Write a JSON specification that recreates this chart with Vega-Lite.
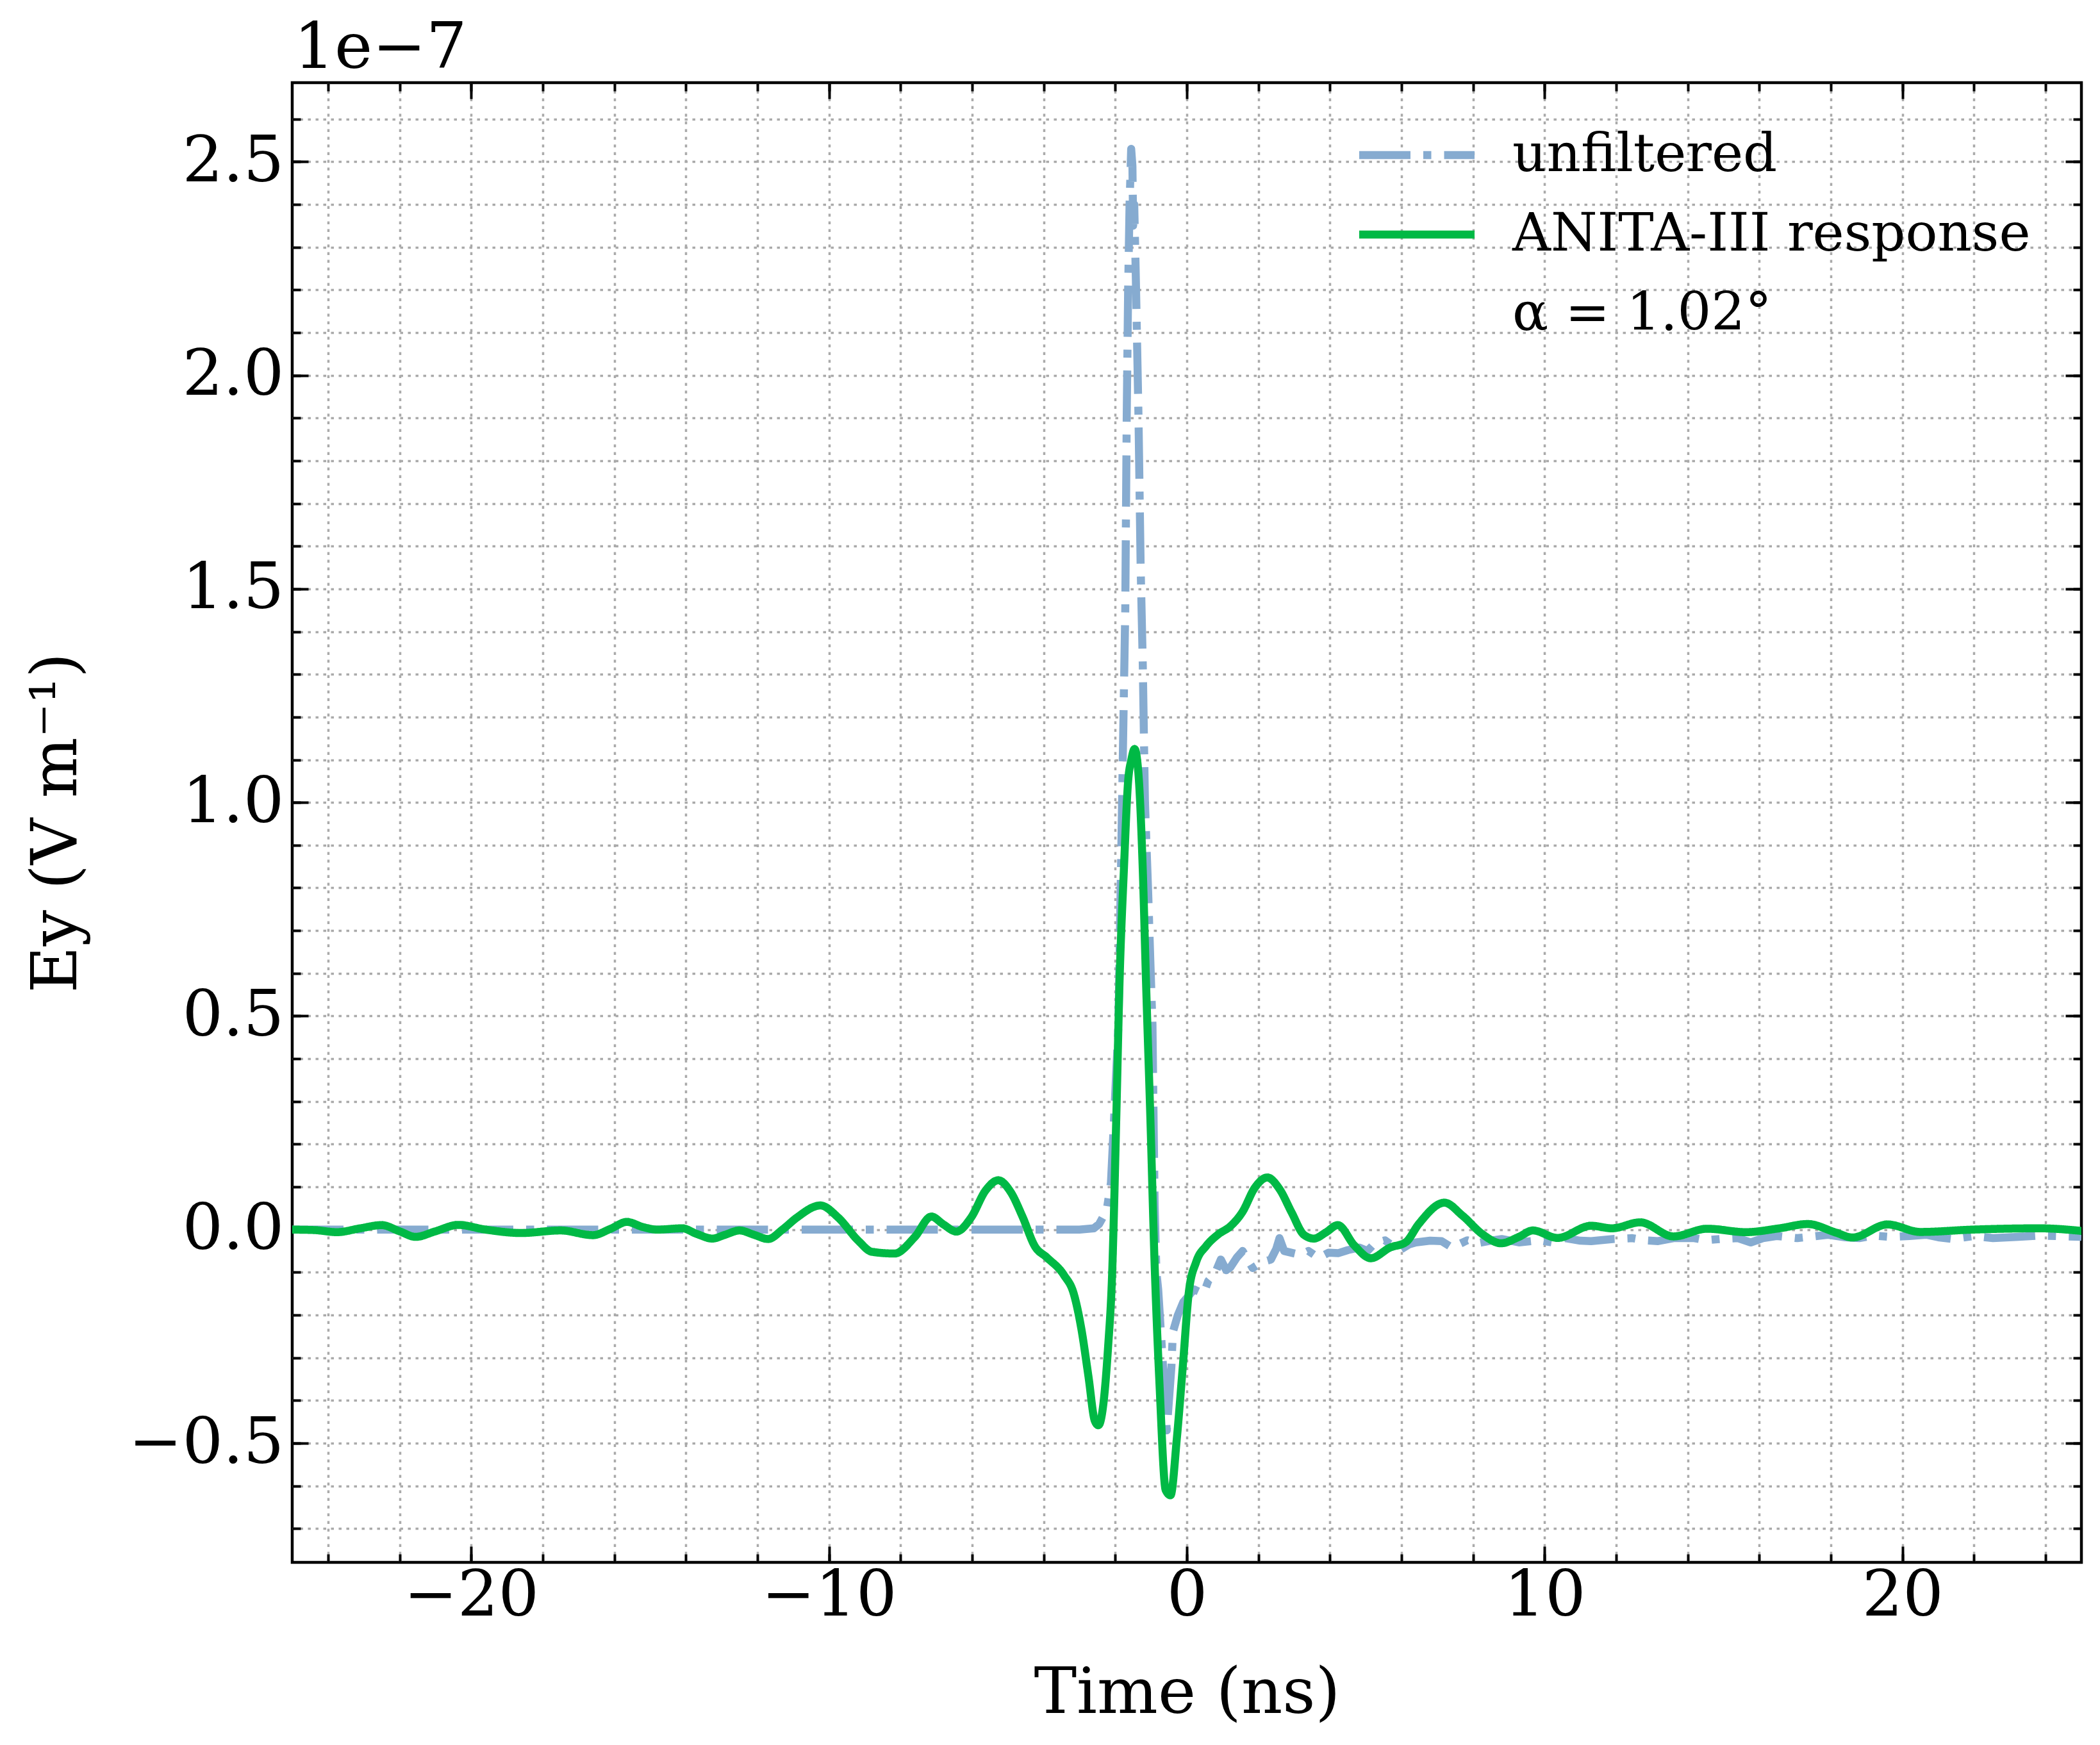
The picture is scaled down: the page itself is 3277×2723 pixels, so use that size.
{
  "$schema": "https://vega.github.io/schema/vega-lite/v6.json",
  "width": 2792,
  "height": 2309,
  "autosize": {"type": "none"},
  "padding": {"left": 456, "top": 129, "right": 29, "bottom": 285},
  "background": "#ffffff",
  "datasets": {
    "unfiltered": [
      {"t": -25, "v": 0, "series": "unfiltered"},
      {"t": -15, "v": 0, "series": "unfiltered"},
      {"t": -5, "v": 0, "series": "unfiltered"},
      {"t": -3.0, "v": 0.0, "series": "unfiltered"},
      {"t": -2.6, "v": 0.003, "series": "unfiltered"},
      {"t": -2.45, "v": 0.013, "series": "unfiltered"},
      {"t": -2.24, "v": 0.045, "series": "unfiltered"},
      {"t": -2.12, "v": 0.11, "series": "unfiltered"},
      {"t": -2.03, "v": 0.265, "series": "unfiltered"},
      {"t": -1.91, "v": 0.48, "series": "unfiltered"},
      {"t": -1.85, "v": 0.79, "series": "unfiltered"},
      {"t": -1.79, "v": 1.1, "series": "unfiltered"},
      {"t": -1.72, "v": 1.45, "series": "unfiltered"},
      {"t": -1.68, "v": 1.9, "series": "unfiltered"},
      {"t": -1.64, "v": 2.2, "series": "unfiltered"},
      {"t": -1.6, "v": 2.4, "series": "unfiltered"},
      {"t": -1.555, "v": 2.53, "series": "unfiltered"},
      {"t": -1.52, "v": 2.49, "series": "unfiltered"},
      {"t": -1.5, "v": 2.35, "series": "unfiltered"},
      {"t": -1.47, "v": 2.4, "series": "unfiltered"},
      {"t": -1.43, "v": 2.25, "series": "unfiltered"},
      {"t": -1.4, "v": 2.12, "series": "unfiltered"},
      {"t": -1.35, "v": 1.9, "series": "unfiltered"},
      {"t": -1.29, "v": 1.55, "series": "unfiltered"},
      {"t": -1.23, "v": 1.32, "series": "unfiltered"},
      {"t": -1.17, "v": 1.0, "series": "unfiltered"},
      {"t": -1.08, "v": 0.79, "series": "unfiltered"},
      {"t": -1.02, "v": 0.63, "series": "unfiltered"},
      {"t": -0.96, "v": 0.48, "series": "unfiltered"},
      {"t": -0.93, "v": 0.27, "series": "unfiltered"},
      {"t": -0.9, "v": 0.06, "series": "unfiltered"},
      {"t": -0.85, "v": -0.1, "series": "unfiltered"},
      {"t": -0.8, "v": -0.14, "series": "unfiltered"},
      {"t": -0.68, "v": -0.3, "series": "unfiltered"},
      {"t": -0.56, "v": -0.47, "series": "unfiltered"},
      {"t": -0.5, "v": -0.4, "series": "unfiltered"},
      {"t": -0.43, "v": -0.32, "series": "unfiltered"},
      {"t": -0.39, "v": -0.24, "series": "unfiltered"},
      {"t": -0.25, "v": -0.2, "series": "unfiltered"},
      {"t": -0.1, "v": -0.17, "series": "unfiltered"},
      {"t": 0.0, "v": -0.16, "series": "unfiltered"},
      {"t": 0.2, "v": -0.14, "series": "unfiltered"},
      {"t": 0.47, "v": -0.15, "series": "unfiltered"},
      {"t": 0.6, "v": -0.12, "series": "unfiltered"},
      {"t": 0.8, "v": -0.1, "series": "unfiltered"},
      {"t": 0.95, "v": -0.07, "series": "unfiltered"},
      {"t": 1.1, "v": -0.095, "series": "unfiltered"},
      {"t": 1.22, "v": -0.088, "series": "unfiltered"},
      {"t": 1.4, "v": -0.065, "series": "unfiltered"},
      {"t": 1.56, "v": -0.05, "series": "unfiltered"},
      {"t": 1.7, "v": -0.07, "series": "unfiltered"},
      {"t": 1.84, "v": -0.09, "series": "unfiltered"},
      {"t": 2.1, "v": -0.076, "series": "unfiltered"},
      {"t": 2.35, "v": -0.07, "series": "unfiltered"},
      {"t": 2.5, "v": -0.045, "series": "unfiltered"},
      {"t": 2.59, "v": -0.02, "series": "unfiltered"},
      {"t": 2.72, "v": -0.05, "series": "unfiltered"},
      {"t": 3.07, "v": -0.057, "series": "unfiltered"},
      {"t": 3.24, "v": -0.057, "series": "unfiltered"},
      {"t": 3.4, "v": -0.05, "series": "unfiltered"},
      {"t": 3.68, "v": -0.066, "series": "unfiltered"},
      {"t": 3.96, "v": -0.054, "series": "unfiltered"},
      {"t": 4.24, "v": -0.055, "series": "unfiltered"},
      {"t": 4.5, "v": -0.048, "series": "unfiltered"},
      {"t": 4.82, "v": -0.042, "series": "unfiltered"},
      {"t": 5.05, "v": -0.05, "series": "unfiltered"},
      {"t": 5.25, "v": -0.032, "series": "unfiltered"},
      {"t": 5.54, "v": -0.025, "series": "unfiltered"},
      {"t": 5.75, "v": -0.038, "series": "unfiltered"},
      {"t": 5.97, "v": -0.047, "series": "unfiltered"},
      {"t": 6.2, "v": -0.035, "series": "unfiltered"},
      {"t": 6.4, "v": -0.03, "series": "unfiltered"},
      {"t": 6.8, "v": -0.026, "series": "unfiltered"},
      {"t": 7.12, "v": -0.027, "series": "unfiltered"},
      {"t": 7.41, "v": -0.042, "series": "unfiltered"},
      {"t": 7.84, "v": -0.025, "series": "unfiltered"},
      {"t": 8.1, "v": -0.032, "series": "unfiltered"},
      {"t": 8.42, "v": -0.027, "series": "unfiltered"},
      {"t": 8.8, "v": -0.022, "series": "unfiltered"},
      {"t": 9.28, "v": -0.03, "series": "unfiltered"},
      {"t": 9.86, "v": -0.025, "series": "unfiltered"},
      {"t": 10.2, "v": -0.03, "series": "unfiltered"},
      {"t": 10.58, "v": -0.02, "series": "unfiltered"},
      {"t": 11.0, "v": -0.026, "series": "unfiltered"},
      {"t": 11.3, "v": -0.027, "series": "unfiltered"},
      {"t": 11.9, "v": -0.022, "series": "unfiltered"},
      {"t": 12.45, "v": -0.02, "series": "unfiltered"},
      {"t": 12.8, "v": -0.025, "series": "unfiltered"},
      {"t": 13.17, "v": -0.027, "series": "unfiltered"},
      {"t": 13.6, "v": -0.02, "series": "unfiltered"},
      {"t": 14.18, "v": -0.02, "series": "unfiltered"},
      {"t": 14.5, "v": -0.025, "series": "unfiltered"},
      {"t": 14.9, "v": -0.022, "series": "unfiltered"},
      {"t": 15.4, "v": -0.02, "series": "unfiltered"},
      {"t": 15.76, "v": -0.03, "series": "unfiltered"},
      {"t": 16.1, "v": -0.02, "series": "unfiltered"},
      {"t": 16.48, "v": -0.015, "series": "unfiltered"},
      {"t": 17.06, "v": -0.02, "series": "unfiltered"},
      {"t": 17.5, "v": -0.016, "series": "unfiltered"},
      {"t": 17.92, "v": -0.012, "series": "unfiltered"},
      {"t": 18.4, "v": -0.018, "series": "unfiltered"},
      {"t": 18.79, "v": -0.02, "series": "unfiltered"},
      {"t": 19.2, "v": -0.014, "series": "unfiltered"},
      {"t": 19.65, "v": -0.017, "series": "unfiltered"},
      {"t": 20.2, "v": -0.015, "series": "unfiltered"},
      {"t": 20.66, "v": -0.012, "series": "unfiltered"},
      {"t": 21.0, "v": -0.018, "series": "unfiltered"},
      {"t": 21.38, "v": -0.022, "series": "unfiltered"},
      {"t": 22.0, "v": -0.015, "series": "unfiltered"},
      {"t": 22.53, "v": -0.02, "series": "unfiltered"},
      {"t": 23.25, "v": -0.017, "series": "unfiltered"},
      {"t": 23.8, "v": -0.014, "series": "unfiltered"},
      {"t": 24.26, "v": -0.015, "series": "unfiltered"},
      {"t": 25.0, "v": -0.017, "series": "unfiltered"}
    ],
    "anita": [
      {"t": -25.0, "v": 0.0, "series": "ANITA-III response"},
      {"t": -24.4, "v": -0.001, "series": "ANITA-III response"},
      {"t": -23.75, "v": -0.006, "series": "ANITA-III response"},
      {"t": -23.1, "v": 0.003, "series": "ANITA-III response"},
      {"t": -22.5, "v": 0.0105, "series": "ANITA-III response"},
      {"t": -22.0, "v": -0.004, "series": "ANITA-III response"},
      {"t": -21.55, "v": -0.017, "series": "ANITA-III response"},
      {"t": -21.0, "v": -0.004, "series": "ANITA-III response"},
      {"t": -20.36, "v": 0.011, "series": "ANITA-III response"},
      {"t": -19.6, "v": 0.0, "series": "ANITA-III response"},
      {"t": -18.6, "v": -0.008, "series": "ANITA-III response"},
      {"t": -17.5, "v": -0.002, "series": "ANITA-III response"},
      {"t": -16.6, "v": -0.013, "series": "ANITA-III response"},
      {"t": -16.1, "v": 0.002, "series": "ANITA-III response"},
      {"t": -15.65, "v": 0.018, "series": "ANITA-III response"},
      {"t": -15.2, "v": 0.006, "series": "ANITA-III response"},
      {"t": -14.8, "v": 0.0, "series": "ANITA-III response"},
      {"t": -14.1, "v": 0.003, "series": "ANITA-III response"},
      {"t": -13.7, "v": -0.01, "series": "ANITA-III response"},
      {"t": -13.26, "v": -0.021, "series": "ANITA-III response"},
      {"t": -12.9, "v": -0.012, "series": "ANITA-III response"},
      {"t": -12.5, "v": -0.002, "series": "ANITA-III response"},
      {"t": -12.1, "v": -0.012, "series": "ANITA-III response"},
      {"t": -11.7, "v": -0.022, "series": "ANITA-III response"},
      {"t": -11.3, "v": 0.0, "series": "ANITA-III response"},
      {"t": -10.9, "v": 0.028, "series": "ANITA-III response"},
      {"t": -10.24, "v": 0.0565, "series": "ANITA-III response"},
      {"t": -9.74, "v": 0.028, "series": "ANITA-III response"},
      {"t": -9.17, "v": -0.027, "series": "ANITA-III response"},
      {"t": -8.8, "v": -0.052, "series": "ANITA-III response"},
      {"t": -8.17, "v": -0.056, "series": "ANITA-III response"},
      {"t": -7.6, "v": -0.017, "series": "ANITA-III response"},
      {"t": -7.14, "v": 0.0305, "series": "ANITA-III response"},
      {"t": -6.8, "v": 0.012, "series": "ANITA-III response"},
      {"t": -6.44, "v": -0.0045, "series": "ANITA-III response"},
      {"t": -6.03, "v": 0.028, "series": "ANITA-III response"},
      {"t": -5.62, "v": 0.092, "series": "ANITA-III response"},
      {"t": -5.27, "v": 0.1155, "series": "ANITA-III response"},
      {"t": -4.93, "v": 0.089, "series": "ANITA-III response"},
      {"t": -4.59, "v": 0.03, "series": "ANITA-III response"},
      {"t": -4.25, "v": -0.0385, "series": "ANITA-III response"},
      {"t": -3.9, "v": -0.066, "series": "ANITA-III response"},
      {"t": -3.43, "v": -0.107, "series": "ANITA-III response"},
      {"t": -3.16, "v": -0.15, "series": "ANITA-III response"},
      {"t": -2.95, "v": -0.231, "series": "ANITA-III response"},
      {"t": -2.75, "v": -0.343, "series": "ANITA-III response"},
      {"t": -2.57, "v": -0.448, "series": "ANITA-III response"},
      {"t": -2.47, "v": -0.458, "series": "ANITA-III response"},
      {"t": -2.35, "v": -0.42, "series": "ANITA-III response"},
      {"t": -2.2, "v": -0.275, "series": "ANITA-III response"},
      {"t": -2.09, "v": -0.11, "series": "ANITA-III response"},
      {"t": -1.97, "v": 0.265, "series": "ANITA-III response"},
      {"t": -1.88, "v": 0.58, "series": "ANITA-III response"},
      {"t": -1.76, "v": 0.84, "series": "ANITA-III response"},
      {"t": -1.64, "v": 1.05, "series": "ANITA-III response"},
      {"t": -1.55, "v": 1.1, "series": "ANITA-III response"},
      {"t": -1.46, "v": 1.125, "series": "ANITA-III response"},
      {"t": -1.35, "v": 1.065, "series": "ANITA-III response"},
      {"t": -1.23, "v": 0.84, "series": "ANITA-III response"},
      {"t": -1.14, "v": 0.58, "series": "ANITA-III response"},
      {"t": -1.02, "v": 0.265, "series": "ANITA-III response"},
      {"t": -0.9, "v": -0.08, "series": "ANITA-III response"},
      {"t": -0.76, "v": -0.368, "series": "ANITA-III response"},
      {"t": -0.59, "v": -0.61, "series": "ANITA-III response"},
      {"t": -0.455, "v": -0.622, "series": "ANITA-III response"},
      {"t": -0.28, "v": -0.49, "series": "ANITA-III response"},
      {"t": -0.11, "v": -0.318, "series": "ANITA-III response"},
      {"t": 0.06, "v": -0.144, "series": "ANITA-III response"},
      {"t": 0.26, "v": -0.076, "series": "ANITA-III response"},
      {"t": 0.54, "v": -0.0385, "series": "ANITA-III response"},
      {"t": 0.88, "v": -0.011, "series": "ANITA-III response"},
      {"t": 1.22, "v": 0.008, "series": "ANITA-III response"},
      {"t": 1.56, "v": 0.042, "series": "ANITA-III response"},
      {"t": 1.9, "v": 0.098, "series": "ANITA-III response"},
      {"t": 2.25, "v": 0.122, "series": "ANITA-III response"},
      {"t": 2.59, "v": 0.095, "series": "ANITA-III response"},
      {"t": 2.93, "v": 0.04, "series": "ANITA-III response"},
      {"t": 3.27, "v": -0.012, "series": "ANITA-III response"},
      {"t": 3.55, "v": -0.021, "series": "ANITA-III response"},
      {"t": 3.88, "v": -0.007, "series": "ANITA-III response"},
      {"t": 4.22, "v": 0.0105, "series": "ANITA-III response"},
      {"t": 4.68, "v": -0.037, "series": "ANITA-III response"},
      {"t": 5.14, "v": -0.067, "series": "ANITA-III response"},
      {"t": 5.68, "v": -0.042, "series": "ANITA-III response"},
      {"t": 6.12, "v": -0.0295, "series": "ANITA-III response"},
      {"t": 6.48, "v": 0.013, "series": "ANITA-III response"},
      {"t": 7.2, "v": 0.063, "series": "ANITA-III response"},
      {"t": 7.7, "v": 0.033, "series": "ANITA-III response"},
      {"t": 8.28, "v": -0.012, "series": "ANITA-III response"},
      {"t": 8.78, "v": -0.032, "series": "ANITA-III response"},
      {"t": 9.28, "v": -0.017, "series": "ANITA-III response"},
      {"t": 9.67, "v": -0.002, "series": "ANITA-III response"},
      {"t": 10.36, "v": -0.0195, "series": "ANITA-III response"},
      {"t": 11.3, "v": 0.009, "series": "ANITA-III response"},
      {"t": 11.88, "v": 0.003, "series": "ANITA-III response"},
      {"t": 12.67, "v": 0.017, "series": "ANITA-III response"},
      {"t": 13.6, "v": -0.016, "series": "ANITA-III response"},
      {"t": 14.54, "v": 0.002, "series": "ANITA-III response"},
      {"t": 15.62, "v": -0.006, "series": "ANITA-III response"},
      {"t": 16.56, "v": 0.003, "series": "ANITA-III response"},
      {"t": 17.35, "v": 0.013, "series": "ANITA-III response"},
      {"t": 18.14, "v": -0.007, "series": "ANITA-III response"},
      {"t": 18.6, "v": -0.0185, "series": "ANITA-III response"},
      {"t": 19.58, "v": 0.012, "series": "ANITA-III response"},
      {"t": 20.5, "v": -0.0055, "series": "ANITA-III response"},
      {"t": 21.96, "v": 0.0, "series": "ANITA-III response"},
      {"t": 23.83, "v": 0.003, "series": "ANITA-III response"},
      {"t": 25.0, "v": -0.003, "series": "ANITA-III response"}
    ]
  },
  "resolve": {"axis": {"x": "independent", "y": "independent"}},
  "layer": [
    {
      "data": {"name": "unfiltered"},
      "mark": {"type": "line", "strokeWidth": 12.5, "strokeCap": "butt", "strokeJoin": "round", "interpolate": "linear", "clip": true},
      "encoding": {
        "x": {"field": "t", "type": "quantitative",
          "scale": {"domain": [-25, 25], "nice": false, "zero": false},
          "axis": {"orient": "bottom", "values": [-20, -10, 0, 10, 20], "format": "d", "tickSize": -25, "labelPadding": 107, "labelBaseline": "alphabetic", "labelFlush": false, "labelOverlap": false, "labelLimit": 0, "grid": false, "title": "Time (ns)", "titleBaseline": "alphabetic", "titleY": 234}},
        "y": {"field": "v", "type": "quantitative",
          "scale": {"domain": [-0.779, 2.685], "nice": false, "zero": false},
          "axis": {"orient": "left", "values": [-0.5, 0, 0.5, 1, 1.5, 2, 2.5], "format": ".1f", "tickSize": -25, "labelPadding": 38, "labelFlush": false, "labelOverlap": false, "labelLimit": 0, "grid": false, "title": "Ey (V m⁻¹)", "titleX": -338, "titleY": 1154.5, "titleAngle": -90, "titleBaseline": "alphabetic", "titleAlign": "center"}},
        "color": {"field": "series", "type": "nominal",
          "scale": {"domain": ["unfiltered", "ANITA-III response", "α = 1.02°"], "range": ["#86abd0", "#00b945", "rgba(0,0,0,0)"]},
          "legend": {"orient": "none", "legendX": 1658.5, "legendY": 58, "title": null, "symbolType": "stroke", "symbolSize": 32400, "symbolStrokeWidth": 12.5, "labelFont": "DejaVu Serif", "labelFontSize": 83, "labelColor": "#000000", "labelOffset": 52.5, "clipHeight": 110, "rowPadding": 14, "padding": 0, "labelLimit": 0, "symbolOffset": 0}},
        "strokeDash": {"field": "series", "type": "nominal",
          "scale": {"domain": ["unfiltered", "ANITA-III response", "α = 1.02°"], "range": [[80, 20, 12.5, 20], [1, 0], [1, 0]]},
          "legend": {"orient": "none", "legendX": 1658.5, "legendY": 58, "title": null, "symbolType": "stroke", "symbolSize": 32400, "symbolStrokeWidth": 12.5, "labelFont": "DejaVu Serif", "labelFontSize": 83, "labelColor": "#000000", "labelOffset": 52.5, "clipHeight": 110, "rowPadding": 14, "padding": 0, "labelLimit": 0, "symbolOffset": 0}}
      }
    },
    {
      "data": {"name": "anita"},
      "mark": {"type": "line", "strokeWidth": 12.5, "strokeCap": "round", "strokeJoin": "round", "interpolate": "monotone", "clip": true},
      "encoding": {
        "x": {"field": "t", "type": "quantitative",
          "axis": {"orient": "bottom", "values": [-24, -22, -20, -18, -16, -14, -12, -10, -8, -6, -4, -2, 0, 2, 4, 6, 8, 10, 12, 14, 16, 18, 20, 22, 24], "tickSize": -13, "labels": false, "grid": true, "title": null}},
        "y": {"field": "v", "type": "quantitative",
          "axis": {"orient": "left", "values": [-0.7, -0.6, -0.5, -0.4, -0.3, -0.2, -0.1, 0, 0.1, 0.2, 0.3, 0.4, 0.5, 0.6, 0.7, 0.8, 0.9, 1.0, 1.1, 1.2, 1.3, 1.4, 1.5, 1.6, 1.7, 1.8, 1.9, 2.0, 2.1, 2.2, 2.3, 2.4, 2.5, 2.6], "tickSize": -13, "labels": false, "grid": true, "title": null}},
        "color": {"field": "series", "type": "nominal",
          "scale": {"domain": ["unfiltered", "ANITA-III response", "α = 1.02°"], "range": ["#86abd0", "#00b945", "rgba(0,0,0,0)"]},
          "legend": {"orient": "none", "legendX": 1658.5, "legendY": 58, "title": null, "symbolType": "stroke", "symbolSize": 32400, "symbolStrokeWidth": 12.5, "labelFont": "DejaVu Serif", "labelFontSize": 83, "labelColor": "#000000", "labelOffset": 52.5, "clipHeight": 110, "rowPadding": 14, "padding": 0, "labelLimit": 0, "symbolOffset": 0}},
        "strokeDash": {"field": "series", "type": "nominal",
          "scale": {"domain": ["unfiltered", "ANITA-III response", "α = 1.02°"], "range": [[80, 20, 12.5, 20], [1, 0], [1, 0]]},
          "legend": {"orient": "none", "legendX": 1658.5, "legendY": 58, "title": null, "symbolType": "stroke", "symbolSize": 32400, "symbolStrokeWidth": 12.5, "labelFont": "DejaVu Serif", "labelFontSize": 83, "labelColor": "#000000", "labelOffset": 52.5, "clipHeight": 110, "rowPadding": 14, "padding": 0, "labelLimit": 0, "symbolOffset": 0}}
      }
    },
    {
      "data": {"name": "anita"},
      "mark": {"type": "line", "strokeOpacity": 0, "clip": true},
      "encoding": {
        "x": {"field": "t", "type": "quantitative",
          "axis": {"orient": "top", "values": [-20, -10, 0, 10, 20], "tickSize": -25, "labels": false, "grid": false, "title": "1e−7", "titleX": 2, "titleY": -24, "titleAlign": "left", "titleAngle": 0, "titleBaseline": "alphabetic"}},
        "y": {"field": "v", "type": "quantitative",
          "axis": {"orient": "right", "values": [-0.5, 0, 0.5, 1, 1.5, 2, 2.5], "tickSize": -25, "labels": false, "grid": false, "title": null}}
      }
    },
    {
      "data": {"name": "anita"},
      "mark": {"type": "line", "strokeOpacity": 0, "clip": true},
      "encoding": {
        "x": {"field": "t", "type": "quantitative",
          "axis": {"orient": "top", "values": [-24, -22, -20, -18, -16, -14, -12, -10, -8, -6, -4, -2, 0, 2, 4, 6, 8, 10, 12, 14, 16, 18, 20, 22, 24], "tickSize": -13, "labels": false, "grid": false, "title": null}},
        "y": {"field": "v", "type": "quantitative",
          "axis": {"orient": "right", "values": [-0.7, -0.6, -0.5, -0.4, -0.3, -0.2, -0.1, 0, 0.1, 0.2, 0.3, 0.4, 0.5, 0.6, 0.7, 0.8, 0.9, 1.0, 1.1, 1.2, 1.3, 1.4, 1.5, 1.6, 1.7, 1.8, 1.9, 2.0, 2.1, 2.2, 2.3, 2.4, 2.5, 2.6], "tickSize": -13, "labels": false, "grid": false, "title": null}}
      }
    }
  ],
  "config": {
    "font": "DejaVu Serif",
    "view": {"stroke": "#000000", "strokeWidth": 4.5},
    "axis": {
      "labelFont": "DejaVu Serif", "titleFont": "DejaVu Serif",
      "labelFontSize": 100, "titleFontSize": 100,
      "labelColor": "#000000", "titleColor": "#000000", "titleFontWeight": "normal",
      "tickColor": "#000000", "tickWidth": 4, "domain": false,
      "gridColor": "#aaaaaa", "gridDash": [4.5, 7.5], "gridWidth": 3.5, "gridOpacity": 1
    },
    "legend": {"labelFont": "DejaVu Serif"}
  }
}
